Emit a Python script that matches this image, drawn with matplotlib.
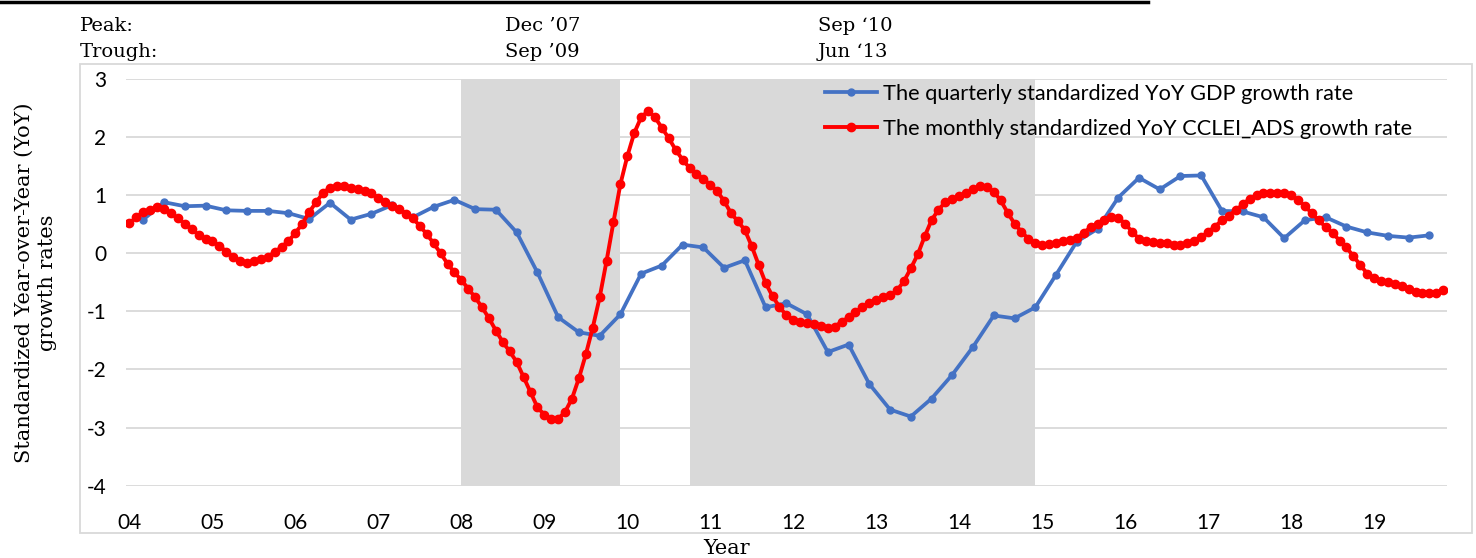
import numpy as np
import matplotlib
matplotlib.use("Agg")
import matplotlib.pyplot as plt
from matplotlib.patches import Rectangle

# Monthly standardized YoY CCLEI_ADS growth rate, Jan 2004 - Nov 2019
cclei = [0.52, 0.62, 0.71, 0.75, 0.79, 0.77, 0.69, 0.60, 0.51, 0.41, 0.32, 0.25,
         0.21, 0.13, 0.03, -0.06, -0.14, -0.16, -0.14, -0.10, -0.06, 0.02, 0.11, 0.21,
         0.35, 0.51, 0.71, 0.88, 1.04, 1.13, 1.16, 1.15, 1.13, 1.10, 1.08, 1.03,
         0.96, 0.89, 0.82, 0.76, 0.68, 0.60, 0.47, 0.33, 0.17, 0.00, -0.18, -0.33,
         -0.46, -0.61, -0.76, -0.93, -1.12, -1.33, -1.53, -1.69, -1.87, -2.13, -2.39, -2.65,
         -2.78, -2.85, -2.85, -2.73, -2.50, -2.15, -1.74, -1.28, -0.76, -0.13, 0.54, 1.19,
         1.67, 2.07, 2.34, 2.45, 2.34, 2.16, 1.98, 1.78, 1.61, 1.47, 1.37, 1.28,
         1.18, 1.07, 0.90, 0.69, 0.55, 0.40, 0.12, -0.20, -0.51, -0.74, -0.92, -1.07,
         -1.14, -1.18, -1.20, -1.22, -1.25, -1.28, -1.26, -1.18, -1.10, -1.01, -0.92, -0.85,
         -0.80, -0.76, -0.72, -0.64, -0.48, -0.26, -0.02, 0.29, 0.57, 0.75, 0.88, 0.94,
         0.98, 1.03, 1.10, 1.15, 1.14, 1.06, 0.91, 0.70, 0.51, 0.37, 0.25, 0.18,
         0.15, 0.16, 0.18, 0.21, 0.23, 0.27, 0.35, 0.45, 0.51, 0.58, 0.62, 0.61,
         0.51, 0.37, 0.25, 0.21, 0.19, 0.18, 0.17, 0.14, 0.14, 0.18, 0.22, 0.28,
         0.37, 0.46, 0.57, 0.65, 0.74, 0.84, 0.94, 1.00, 1.03, 1.04, 1.04, 1.03,
         1.00, 0.92, 0.81, 0.69, 0.57, 0.45, 0.35, 0.22, 0.10, -0.05, -0.20, -0.35,
         -0.43, -0.47, -0.50, -0.53, -0.57, -0.62, -0.66, -0.68, -0.69, -0.68, -0.63]

# Quarterly standardized YoY GDP growth rate, Mar 2004 - Sep 2019
gdp = [0.58, 0.88, 0.81, 0.82, 0.74, 0.73, 0.73, 0.69, 0.59, 0.87, 0.58, 0.68,
       0.83, 0.62, 0.80, 0.92, 0.76, 0.75, 0.36, -0.33, -1.10, -1.36, -1.42, -1.05,
       -0.35, -0.21, 0.15, 0.10, -0.25, -0.12, -0.93, -0.86, -1.05, -1.70, -1.57, -2.25,
       -2.69, -2.81, -2.50, -2.09, -1.61, -1.07, -1.12, -0.93, -0.37, 0.20, 0.42, 0.96,
       1.30, 1.10, 1.33, 1.34, 0.73, 0.72, 0.62, 0.26, 0.57, 0.62, 0.46, 0.36,
       0.30, 0.27, 0.31]

year_labels = ["04", "05", "06", "07", "08", "09", "10", "11", "12", "13",
               "14", "15", "16", "17", "18", "19"]

# recession shading, in months since Jan 2004
shade_periods = [(48, 71), (81, 131)]

x_month = np.arange(len(cclei))
x_quarter = 2 + 3 * np.arange(len(gdp))

sans = ["Lato", "DejaVu Sans"]
serif = ["DejaVu Serif"]
plt.rcParams["font.family"] = sans
plt.rcParams["axes.unicode_minus"] = False

fig = plt.figure(figsize=(14.76, 5.58), dpi=100)
W, H = 1476, 558
left, right, top, bottom = 126, 1446.7, 79, 485.7
ax = fig.add_axes([left / W, 1 - bottom / H, (right - left) / W, (bottom - top) / H])

for a, b in shade_periods:
    ax.axvspan(a, b, color="#d9d9d9", lw=0, zorder=1)

ax.plot(x_quarter, gdp, color="#4472c4", lw=2.7, marker="o", ms=5,
        label="The quarterly standardized YoY GDP growth rate", zorder=3)
ax.plot(x_month, cclei, color="#ff0000", lw=2.8, marker="o", ms=6,
        label="The monthly standardized YoY CCLEI_ADS growth rate", zorder=4)

ax.set_xlim(-0.5, len(cclei) - 0.5)
ax.set_ylim(-4, 3)
ax.set_yticks(range(-4, 4))
ax.set_xticks(np.arange(len(year_labels)) * 12)
ax.set_xticklabels(year_labels)
ax.tick_params(axis="both", length=0, labelsize=15, colors="black")
ax.tick_params(axis="x", pad=20)
ax.tick_params(axis="y", pad=14)
ax.grid(axis="y", color="#d9d9d9", lw=1.3, zorder=0)
for s in ax.spines.values():
    s.set_visible(False)

ax.legend(loc="upper left", bbox_to_anchor=(0.529, 0.988), frameon=False,
          fontsize=15.7, borderpad=0, borderaxespad=0, handlelength=2.4,
          handletextpad=0.28, labelspacing=0.68)

# chart border
fig.patches.append(Rectangle((80 / W, 1 - 533 / H), (1471.7 - 80) / W, (533 - 63.5) / H,
                             transform=fig.transFigure, fill=False,
                             edgecolor="#d9d9d9", lw=1.3))
# rule under the cut-off caption
fig.add_artist(plt.Line2D([0, 1148 / W], [1 - 1.5 / H, 1 - 1.5 / H],
                          transform=fig.transFigure, color="black", lw=2.5))

# peak / trough header
fig.text(80 / W, 1 - 30.7 / H, "Peak:", family=serif, fontsize=14, va="baseline")
fig.text(80 / W, 1 - 57.3 / H, "Trough:", family=serif, fontsize=14, va="baseline")
fig.text(505 / W, 1 - 30.7 / H, "Dec \u201907", family=serif, fontsize=14, va="baseline")
fig.text(505 / W, 1 - 57.3 / H, "Sep \u201909", family=serif, fontsize=14, va="baseline")
fig.text(818 / W, 1 - 30.7 / H, "Sep \u201810", family=serif, fontsize=14, va="baseline")
fig.text(818 / W, 1 - 57.3 / H, "Jun \u201813", family=serif, fontsize=14, va="baseline")

fig.text(727 / W, 1 - 548 / H, "Year", family=serif, fontsize=15, ha="center", va="center")
fig.text(36 / W, 1 - 283 / H, "Standardized Year-over-Year (YoY)\ngrowth rates",
         family=serif, fontsize=15, rotation=90, ha="center", va="center",
         multialignment="center", linespacing=1.25)

fig.savefig("out.png", dpi=100)
